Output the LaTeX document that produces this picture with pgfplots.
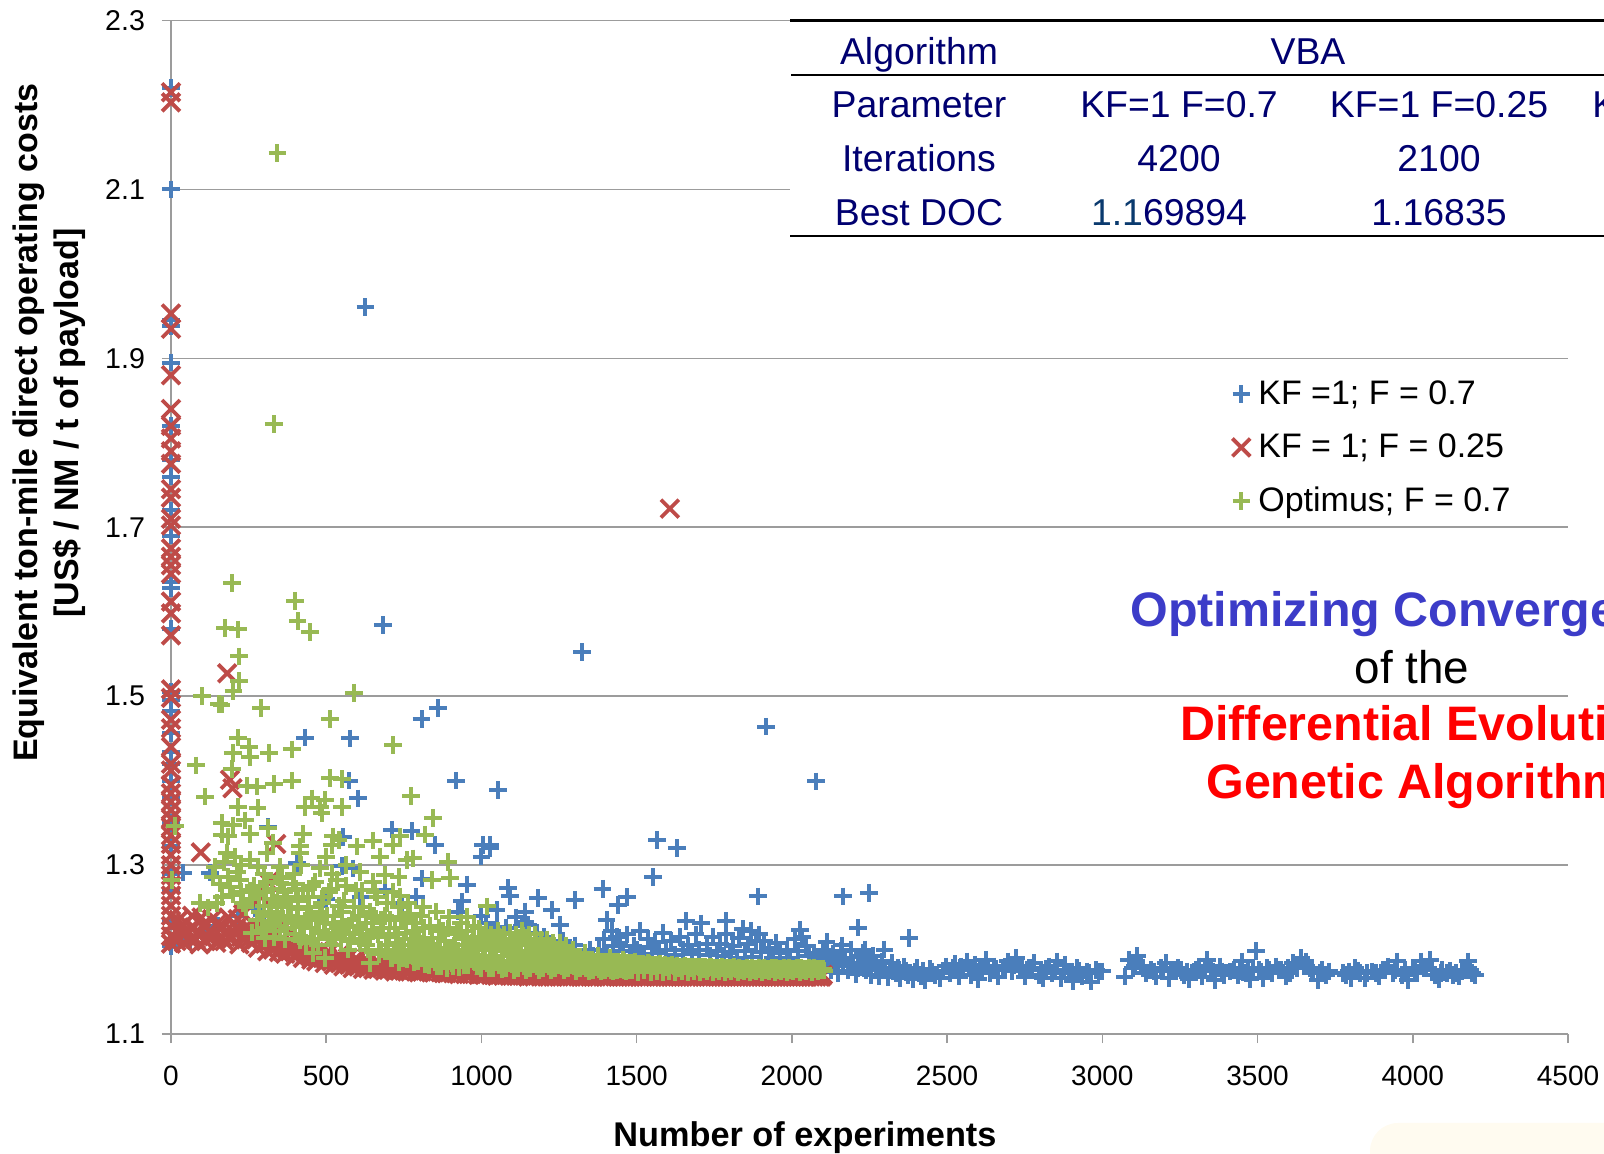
\documentclass[border=0pt]{standalone}
\usepackage{pgfplots}
\pgfplotsset{compat=1.18}
\usepackage{fontspec}
\setmainfont{Liberation Sans}
\definecolor{cblue}{HTML}{4A7EBB}
\definecolor{cred}{HTML}{BE4B48}
\definecolor{cgreen}{HTML}{98B954}
\definecolor{cgrid}{HTML}{9C9C9C}
\definecolor{cnavy}{HTML}{000070}
\begin{document}
\begin{tikzpicture}
\path[use as bounding box] (-85.5pt,-60pt) rectangle (716.5pt,517pt);
\clip (-85.5pt,-60pt) rectangle (716.5pt,517pt);
\begin{axis}[
  at={(0pt,0pt)},anchor=origin,
  scale only axis,width=698.5pt,height=506.75pt,
  xmin=0,xmax=4500,ymin=1.1,ymax=2.3,
  axis x line*=bottom,axis y line*=left,
  axis line style={-,draw=cgrid,line width=.8pt},
  xtick={0,500,...,4500},
  ytick={1.1,1.3,1.5,1.7,1.9,2.1,2.3},
  yticklabels={1.1,1.3,1.5,1.7,1.9,2.1,2.3},
  scaled x ticks=false,
  xticklabel style={/pgf/number format/1000 sep={},/pgf/number format/assume math mode=true,font=\fontsize{14}{16}\selectfont,yshift=-8pt},
  yticklabel style={font=\fontsize{14.3}{16}\selectfont,xshift=-5pt},
  tick align=outside,major tick length=4.5pt,
  tick style={draw=cgrid,line width=.8pt},
  ymajorgrids,grid style={draw=cgrid,line width=.8pt},
  clip=false,
  xlabel={Number of experiments},
  ylabel={Equivalent ton-mile direct operating costs\\ {[US\$ / NM / t of payload]}},
  every axis x label/.style={at={(axis description cs:0.4538,-0.1027)},anchor=center,font=\fontsize{17.15}{20}\selectfont\bfseries},
  every axis y label/.style={at={(axis description cs:-0.0875,0.603)},rotate=90,anchor=center,align=center,font=\fontsize{17}{20.5}\selectfont\bfseries},
  legend style={at={(axis cs:3419,1.878)},anchor=north west,draw=none,fill=none,inner sep=0pt,outer sep=0pt,font=\fontsize{17}{20}\selectfont,row sep=9.2pt,legend cell align=left},
  legend image code/.code={\draw[#1] plot coordinates {(0pt,0pt)};\path (0pt,0pt) (6.3pt,0pt);},
]
\addplot[only marks,mark=+,mark size=4.4pt,color=cblue,mark options={line width=2pt}] coordinates {
(0,2.22)(0,2.10)(0,1.945)(0,1.938)(0,1.895)(0,1.82)(0,1.78)(0,1.76)(0,1.72)(0,1.69)(0,1.635)(0,1.628)(0,1.58)(0,1.505)(0,1.495)(0,1.483)(0,1.456)(0,1.434)(0,1.42)(0,1.399)(0,1.38)(0,1.35)(0,1.322)(0,1.29)(0,1.27)(0,1.234)(0,1.204)
(626,1.961)(682,1.584)(1324,1.552)(1917,1.464)(2078,1.399)(860,1.486)(807,1.473)(431,1.451)(576,1.45)(573,1.40)(603,1.379)(919,1.40)(1054,1.389)
(711,1.342)(775,1.34)(851,1.324)(1005,1.324)(1028,1.324)(1027,1.32)(1000,1.31)(313,1.345)(554,1.333)(405,1.302)(550,1.299)(587,1.296)(39,1.291)(125,1.291)(808,1.284)(953,1.277)(1086,1.273)(1092,1.263)(1182,1.261)(1301,1.259)(1390,1.272)(1226,1.247)(1253,1.229)(1403,1.235)(1468,1.262)(1440,1.253)(937,1.257)(924,1.245)(1049,1.247)(1049,1.227)(1140,1.245)(1140,1.233)(271,1.249)(1436,1.215)
(1553,1.286)(1629,1.32)(1565,1.33)(1891,1.263)(2165,1.263)(2249,1.267)(2212,1.226)(2378,1.214)(1658,1.234)(1708,1.231)(1788,1.234)(1788,1.218)(1843,1.224)(1868,1.222)(1895,1.218)(1910,1.21)(2027,1.223)(2032,1.215)(2112,1.209)(2160,1.205)(2235,1.2)(2298,1.2)
(40,1.215)(62,1.21)(110,1.222)(150,1.228)(215,1.24)(300,1.23)(408,1.25)(500,1.26)(610,1.262)(690,1.27)(745,1.255)(790,1.262)(1000,1.24)(1015,1.232)(1080,1.226)(1110,1.238)(1130,1.228)(1150,1.229)(1180,1.22)(1200,1.215)(1262,1.21)(1300,1.205)(1350,1.2)(1395,1.212)(1420,1.222)(1445,1.208)(1470,1.218)(1490,1.204)(1510,1.222)(1535,1.213)(1560,1.209)(1585,1.22)(1610,1.21)(1640,1.215)(1665,1.205)(1690,1.218)(1725,1.206)(1745,1.215)(1770,1.207)(1810,1.204)(1830,1.214)(1860,1.206)(1885,1.21)(1925,1.202)(1950,1.208)(1985,1.2)(2010,1.212)(2045,1.204)(2070,1.196)
(1360,1.192)(1380,1.2)(1405,1.196)(1425,1.204)(1455,1.198)(1480,1.192)(1500,1.2)(1522,1.195)(1548,1.202)(1572,1.196)(1596,1.2)(1622,1.194)(1650,1.2)(1678,1.195)(1702,1.2)(1735,1.193)(1758,1.198)(1782,1.192)(1800,1.197)(1822,1.19)(1848,1.198)(1872,1.191)(1900,1.197)(1938,1.19)(1962,1.196)(1995,1.19)(2020,1.198)(2055,1.192)(2082,1.186)(2105,1.182)
(2090,1.19)(2100,1.2)(2118,1.183)(2125,1.176)(2133,1.195)(2140,1.186)(2150,1.172)(2158,1.198)(2172,1.19)(2180,1.175)(2190,1.2)(2198,1.184)(2206,1.171)(2215,1.191)(2222,1.18)(2230,1.196)(2238,1.176)(2246,1.188)(2255,1.17)(2262,1.192)(2270,1.182)(2280,1.168)(2290,1.186)(2300,1.176)(2310,1.167)(2322,1.184)(2335,1.172)(2348,1.166)(2360,1.18)(2375,1.17)(2390,1.165)(2402,1.178)(2415,1.168)(2430,1.164)(2445,1.177)(2462,1.17)(2478,1.166)(2495,1.18)(2510,1.172)(2525,1.183)(2538,1.168)(2552,1.176)(2565,1.186)(2578,1.17)(2590,1.182)(2600,1.165)(2612,1.178)(2625,1.188)(2638,1.172)(2650,1.18)(2665,1.168)(2680,1.176)(2695,1.186)(2710,1.174)(2722,1.19)(2735,1.18)(2750,1.168)(2765,1.178)(2780,1.184)(2795,1.17)(2808,1.166)(2820,1.177)(2838,1.172)(2855,1.186)(2868,1.166)(2880,1.182)(2892,1.172)(2905,1.163)(2918,1.178)(2935,1.168)(2950,1.174)(2965,1.162)(2980,1.176)(3000,1.174)
(3072,1.168)(3085,1.188)(3098,1.178)(3112,1.192)(3125,1.18)(3140,1.172)(3158,1.176)(3172,1.168)(3188,1.178)(3205,1.184)(3215,1.166)(3230,1.176)(3245,1.178)(3262,1.17)(3280,1.165)(3295,1.174)(3310,1.18)(3322,1.168)(3338,1.188)(3350,1.176)(3362,1.164)(3378,1.18)(3392,1.17)(3410,1.174)(3438,1.17)(3450,1.186)(3462,1.172)(3475,1.165)(3495,1.198)(3505,1.176)(3518,1.166)(3530,1.178)(3545,1.172)(3560,1.18)(3575,1.176)(3590,1.168)(3605,1.172)(3615,1.184)(3628,1.178)(3640,1.19)(3655,1.186)(3668,1.178)(3680,1.172)(3695,1.164)(3708,1.176)(3722,1.17)
(3785,1.17)(3800,1.166)(3815,1.178)(3830,1.172)(3845,1.166)(3870,1.174)(3890,1.168)(3905,1.176)(3920,1.18)(3935,1.172)(3950,1.186)(3965,1.17)(3985,1.164)(4000,1.178)(4015,1.172)(4028,1.186)(4042,1.178)(4055,1.188)(4070,1.17)(4085,1.165)(4095,1.176)(4110,1.172)(4130,1.17)(4150,1.168)(4165,1.176)(4178,1.186)(4190,1.172)(4200,1.17)
(2112,1.182)(2145,1.18)(2165,1.184)(2185,1.182)(2212,1.178)(2234,1.184)(2252,1.18)(2275,1.176)(2295,1.178)(2316,1.176)(2342,1.178)(2368,1.175)(2396,1.174)(2422,1.175)(2452,1.174)(2486,1.175)(2518,1.178)(2545,1.18)(2572,1.178)(2605,1.176)(2632,1.18)(2658,1.177)(2688,1.18)(2715,1.182)(2742,1.178)(2772,1.178)(2802,1.176)(2828,1.18)(2848,1.176)(2875,1.176)(2898,1.174)(2925,1.175)(2958,1.172)(2990,1.174)
(3105,1.18)(3132,1.178)(3165,1.174)(3195,1.176)(3222,1.175)(3252,1.176)(3272,1.174)(3302,1.176)(3330,1.178)(3356,1.174)(3385,1.174)(3425,1.176)(3445,1.174)(3468,1.175)(3485,1.178)(3512,1.174)(3538,1.176)(3568,1.176)(3598,1.178)(3622,1.18)(3648,1.18)(3675,1.176)(3702,1.172)(3730,1.174)(3775,1.172)(3795,1.174)(3822,1.175)(3852,1.172)(3880,1.172)(3912,1.176)(3942,1.176)(3975,1.176)(4008,1.176)(4035,1.178)(4062,1.176)(4090,1.172)(4120,1.175)(4140,1.172)(4158,1.174)(4185,1.176)
};
\addlegendentry{KF =1; F = 0.7}
\addplot[only marks,mark=x,mark size=6.3pt,color=cred,mark options={line width=1.9pt}] coordinates {
(0,2.215)(0,2.203)(0,1.953)(0,1.935)(0,1.88)(0,1.84)(0,1.82)(0,1.805)(0,1.79)(0,1.775)(0,1.745)(0,1.735)(0,1.71)(0,1.702)(0,1.675)(0,1.665)(0,1.655)(0,1.645)(0,1.612)(0,1.598)(0,1.572)(0,1.508)(0,1.498)(0,1.472)(0,1.462)(0,1.44)(0,1.42)(0,1.412)(0,1.395)(0,1.385)(0,1.375)(0,1.365)(0,1.355)(0,1.345)(0,1.335)(0,1.325)(0,1.312)(0,1.3)(0,1.288)(0,1.276)(0,1.264)(0,1.252)(0,1.24)(0,1.228)(0,1.216)(0,1.207)
(1607,1.722)(181,1.527)(190,1.401)(198,1.391)(96,1.315)(339,1.325)(313,1.28)(290,1.262)
(18,1.21)(30,1.226)(42,1.208)(55,1.222)(68,1.24)(80,1.212)(92,1.206)(105,1.23)(118,1.215)(132,1.236)(146,1.208)(160,1.224)(172,1.21)(185,1.238)(198,1.214)(210,1.226)(220,1.206)(232,1.242)(245,1.218)(258,1.208)(268,1.23)(280,1.202)(295,1.215)(310,1.198)(322,1.22)(335,1.204)(348,1.197)(362,1.212)(375,1.2)(388,1.222)(400,1.192)(412,1.205)(425,1.19)(438,1.21)(452,1.188)(468,1.186)(482,1.2)(495,1.184)(510,1.197)(525,1.182)(540,1.193)(555,1.18)(570,1.19)(585,1.178)(600,1.188)(618,1.177)(635,1.186)(652,1.176)(670,1.184)(688,1.175)(705,1.183)(722,1.174)(742,1.181)(760,1.174)(778,1.18)(798,1.173)(818,1.178)(838,1.173)(858,1.177)(878,1.172)(898,1.176)(918,1.172)(938,1.175)(958,1.171)(978,1.174)(1000,1.171)(1020,1.173)(1040,1.17)(1060,1.172)(1080,1.17)(1100,1.171)(1120,1.169)(1140,1.171)(1160,1.169)(1180,1.17)(1200,1.169)(1220,1.17)(1240,1.169)(1260,1.169)(1280,1.168)(1300,1.169)(1320,1.168)(1340,1.169)(1360,1.168)(1380,1.169)(1400,1.168)(1420,1.169)(1440,1.168)(1460,1.168)(1480,1.168)(1500,1.169)(1520,1.168)(1540,1.168)(1560,1.168)(1580,1.169)(1600,1.168)(1620,1.168)(1640,1.168)(1660,1.168)(1680,1.168)(1700,1.169)(1720,1.168)(1740,1.168)(1760,1.168)(1780,1.168)(1800,1.168)(1820,1.168)(1840,1.168)(1860,1.168)(1880,1.168)(1900,1.168)(1920,1.168)(1940,1.168)(1960,1.168)(1980,1.168)(2000,1.168)(2020,1.168)(2040,1.168)(2060,1.168)(2080,1.168)(2095,1.168)(2100,1.17)
(8,1.215)(24,1.235)(36,1.218)(48,1.232)(62,1.212)(74,1.226)(86,1.218)(98,1.238)(112,1.21)(125,1.222)(138,1.216)(152,1.232)(166,1.214)(178,1.222)(192,1.212)(204,1.22)(215,1.236)(226,1.215)(238,1.226)(252,1.212)(262,1.222)(274,1.212)(288,1.226)(302,1.207)(316,1.21)(328,1.2)(342,1.208)(355,1.202)(368,1.195)(382,1.198)(394,1.205)(406,1.196)(418,1.198)(432,1.197)(445,1.195)(460,1.192)(475,1.19)(488,1.19)(503,1.19)(518,1.186)(533,1.187)(548,1.185)(563,1.183)(578,1.183)(593,1.181)(610,1.182)(627,1.18)(644,1.18)(661,1.178)(679,1.178)(697,1.177)(714,1.177)(732,1.176)(751,1.175)(769,1.175)(788,1.174)
(808,1.174)(828,1.174)(848,1.173)(868,1.173)(888,1.172)(908,1.172)(928,1.171)(948,1.171)(968,1.171)(990,1.17)(1010,1.17)(1030,1.17)(1050,1.169)(1070,1.169)(1090,1.169)(1110,1.169)(1130,1.169)(1150,1.168)(1170,1.168)(1190,1.168)(1210,1.168)(1230,1.168)(1250,1.168)(1270,1.168)(1290,1.168)(1310,1.168)(1330,1.168)(1350,1.168)(1370,1.168)(1390,1.168)(1410,1.168)(1430,1.168)(1450,1.168)(1470,1.168)(1490,1.168)(1510,1.168)(1530,1.168)(1550,1.168)(1570,1.168)(1590,1.168)(1610,1.168)(1630,1.168)(1650,1.168)(1670,1.168)(1690,1.168)(1710,1.168)(1730,1.168)(1750,1.168)(1770,1.168)(1790,1.168)(1810,1.168)(1830,1.168)(1850,1.168)(1870,1.168)(1890,1.168)(1910,1.168)(1930,1.168)(1950,1.168)(1970,1.168)(1990,1.168)(2010,1.168)(2030,1.168)(2050,1.168)(2070,1.168)(2090,1.168)
};
\addlegendentry{KF = 1; F = 0.25}
\addplot[only marks,mark=+,mark size=4.4pt,color=cgreen,mark options={line width=2pt}] coordinates {
(343,2.143)(331,1.822)(196,1.634)(400,1.613)(174,1.581)(215,1.579)(408,1.589)(448,1.576)(219,1.547)(219,1.518)(201,1.506)(99,1.5)(155,1.491)(163,1.49)(290,1.486)(590,1.504)(512,1.473)(215,1.451)(251,1.44)(199,1.433)(254,1.428)(316,1.433)(389,1.437)(716,1.442)(81,1.418)(196,1.414)(244,1.394)(277,1.393)(332,1.396)(389,1.4)(512,1.403)(551,1.402)(110,1.381)(773,1.382)(215,1.369)(279,1.368)(432,1.369)(453,1.379)(496,1.377)(480,1.369)(485,1.362)(550,1.369)(844,1.356)(13,1.346)(163,1.35)(200,1.347)(238,1.353)(313,1.344)(818,1.336)(254,1.337)(425,1.337)(163,1.336)(184,1.334)(522,1.334)(738,1.334)(329,1.326)(416,1.322)(416,1.314)(598,1.322)(650,1.329)(715,1.324)(518,1.324)(540,1.33)
(892,1.304)(899,1.285)(840,1.282)(673,1.31)(759,1.306)(733,1.286)(738,1.263)(780,1.308)(953,1.239)(1017,1.251)(856,1.18)(641,1.184)(496,1.19)(458,1.196)(416,1.211)(303,1.214)(93,1.255)(147,1.255)(2,1.282)(142,1.298)(135,1.286)(158,1.278)(222,1.282)(190,1.274)(254,1.27)(254,1.306)(179,1.314)(308,1.314)(351,1.298)(345,1.286)(351,1.279)(170,1.304)(205,1.31)(225,1.3)(480,1.296)(500,1.31)(520,1.29)(565,1.3)(610,1.292)(650,1.28)(690,1.288)(420,1.3)(395,1.29)(300,1.29)(280,1.298)(120,1.25)
(165,1.262)(185,1.286)(200,1.265)(212,1.292)(225,1.268)(232,1.255)
(240,1.25)(262,1.26)(285,1.245)(300,1.268)(318,1.23)(328,1.26)(340,1.245)(352,1.222)(365,1.268)(378,1.25)(390,1.232)(402,1.272)(410,1.248)(428,1.228)(440,1.262)(452,1.242)(465,1.28)(478,1.222)(490,1.262)(502,1.24)(515,1.272)(528,1.218)(540,1.252)(552,1.232)(565,1.275)(578,1.212)(590,1.25)(602,1.228)(615,1.27)(628,1.205)(640,1.245)(652,1.222)(665,1.262)(678,1.2)(690,1.24)(702,1.215)(715,1.268)(728,1.198)(740,1.238)(752,1.212)(765,1.255)(778,1.192)(790,1.232)(800,1.21)(812,1.25)(824,1.19)
(835,1.228)(845,1.205)(855,1.245)(866,1.186)(875,1.222)(885,1.202)(896,1.238)(905,1.184)(915,1.218)(925,1.198)(935,1.232)(945,1.182)(955,1.214)(965,1.195)(975,1.228)(985,1.18)(995,1.208)(1005,1.19)(1015,1.222)(1025,1.178)(1035,1.204)(1045,1.188)(1055,1.215)(1065,1.177)(1075,1.2)(1085,1.186)(1095,1.212)(1105,1.176)(1115,1.198)(1125,1.185)(1135,1.216)(1145,1.176)(1155,1.198)(1165,1.184)(1175,1.212)(1185,1.175)(1195,1.196)(1205,1.183)(1215,1.204)(1225,1.175)(1235,1.194)(1245,1.182)(1255,1.198)(1265,1.175)(1275,1.192)(1285,1.181)(1295,1.2)(1305,1.174)(1315,1.19)(1325,1.18)(1335,1.196)(1345,1.174)(1355,1.188)(1365,1.179)(1375,1.192)(1385,1.174)(1395,1.186)(1405,1.178)(1415,1.19)(1425,1.174)(1435,1.184)(1445,1.177)(1455,1.188)(1465,1.174)(1475,1.182)(1485,1.176)(1495,1.186)
(1505,1.173)(1515,1.181)(1525,1.175)(1535,1.184)(1545,1.173)(1555,1.18)(1565,1.174)(1575,1.183)(1585,1.173)(1595,1.179)(1605,1.174)(1615,1.182)(1625,1.173)(1635,1.178)(1645,1.174)(1655,1.181)(1665,1.173)(1675,1.178)(1685,1.174)(1695,1.18)(1705,1.173)(1715,1.177)(1725,1.174)(1735,1.18)(1745,1.173)(1755,1.177)(1765,1.174)(1775,1.179)(1785,1.173)(1795,1.177)(1805,1.174)(1815,1.179)(1825,1.173)(1835,1.176)(1845,1.174)(1855,1.178)(1865,1.173)(1875,1.176)(1885,1.174)(1895,1.178)(1905,1.173)(1915,1.176)(1925,1.174)(1935,1.178)(1945,1.173)(1955,1.176)(1965,1.174)(1975,1.178)(1985,1.173)(1995,1.176)(2005,1.174)(2015,1.178)(2025,1.173)(2035,1.176)(2045,1.174)(2055,1.178)(2065,1.173)(2075,1.177)(2085,1.174)(2095,1.176)(2105,1.175)
(260,1.22)(268,1.275)(276,1.235)(284,1.265)(292,1.222)(300,1.252)(310,1.28)(316,1.24)(325,1.272)(333,1.215)(342,1.255)(350,1.235)(358,1.285)(366,1.212)(374,1.262)(382,1.24)(392,1.278)(400,1.218)(408,1.258)(416,1.23)(424,1.27)(434,1.208)(444,1.25)(456,1.275)(466,1.235)(472,1.205)(486,1.255)(496,1.22)(508,1.268)(518,1.205)(526,1.24)(534,1.282)(546,1.212)(558,1.258)(570,1.2)(584,1.235)(596,1.27)(608,1.208)(620,1.25)(634,1.2)(646,1.232)(658,1.268)(670,1.195)(684,1.225)(696,1.255)(710,1.19)(722,1.225)(734,1.25)(746,1.19)(758,1.22)(770,1.242)(782,1.185)(794,1.215)(806,1.24)(818,1.183)
(305,1.226)(322,1.245)(336,1.228)(356,1.25)(372,1.226)(388,1.25)(406,1.235)(420,1.215)(438,1.238)(450,1.225)(462,1.212)(480,1.245)(492,1.232)(506,1.215)(522,1.23)(538,1.225)(550,1.245)(562,1.218)(574,1.228)(590,1.218)(604,1.24)(616,1.218)(628,1.232)(640,1.215)(654,1.24)(666,1.218)(678,1.235)(692,1.205)(706,1.235)(718,1.2)(730,1.218)(742,1.205)(754,1.235)(766,1.2)(780,1.222)(788,1.205)(802,1.195)(816,1.226)(828,1.205)(840,1.214)(852,1.198)(862,1.226)(872,1.192)(882,1.21)(892,1.225)(900,1.19)(910,1.205)(920,1.222)
(700,1.2)(712,1.19)(725,1.208)(736,1.185)(748,1.2)(760,1.188)(772,1.205)(784,1.2)(796,1.186)(808,1.198)(820,1.2)(832,1.182)(842,1.194)(850,1.185)(860,1.2)(870,1.18)(878,1.19)(888,1.178)(898,1.195)(908,1.18)(918,1.19)(928,1.179)(938,1.19)(948,1.2)(958,1.182)(968,1.208)(978,1.185)(988,1.194)(998,1.178)(1008,1.2)(1018,1.184)(1028,1.192)(1038,1.178)(1048,1.198)(1058,1.182)(1068,1.192)(1078,1.178)(1088,1.196)(1098,1.183)(1108,1.19)(1118,1.178)(1128,1.195)(1138,1.18)(1148,1.19)(1158,1.178)(1168,1.195)(1178,1.18)(1188,1.19)(1198,1.178)(1208,1.192)(1218,1.18)(1228,1.188)(1238,1.178)(1248,1.19)(1258,1.18)(1268,1.186)(1278,1.178)(1288,1.19)(1298,1.18)(1308,1.185)(1318,1.178)(1328,1.188)(1338,1.178)(1348,1.182)(1358,1.176)(1368,1.186)(1378,1.177)(1388,1.182)(1398,1.176)(1408,1.184)(1418,1.176)(1428,1.18)(1438,1.176)(1448,1.183)(1458,1.176)(1468,1.18)(1478,1.176)(1488,1.182)
(940,1.212)(952,1.222)(960,1.205)(972,1.215)(982,1.205)(992,1.225)(1002,1.21)(1012,1.2)(1022,1.212)(1032,1.218)(1042,1.205)(1052,1.222)(1062,1.21)(1072,1.218)(1082,1.205)(1092,1.22)(1102,1.208)(1112,1.218)(1122,1.205)(1132,1.222)(1142,1.208)(1152,1.218)(1162,1.205)(1172,1.218)(1182,1.205)(1192,1.212)(1202,1.2)(1212,1.212)(1222,1.198)(1232,1.208)(1242,1.198)(1252,1.208)(1262,1.198)(1272,1.204)(1282,1.195)
(1300,1.186)(1310,1.187)(1320,1.186)(1330,1.187)(1340,1.186)(1350,1.187)(1360,1.186)(1370,1.186)(1380,1.186)(1390,1.186)(1400,1.185)(1410,1.186)(1420,1.185)(1430,1.185)(1440,1.185)(1450,1.184)(1460,1.185)(1470,1.184)(1480,1.184)(1490,1.184)
(1500,1.183)(1510,1.183)(1520,1.183)(1530,1.182)(1540,1.183)(1550,1.182)(1560,1.182)(1570,1.182)(1580,1.181)(1590,1.182)(1600,1.181)(1610,1.181)(1620,1.18)(1630,1.181)(1640,1.18)(1650,1.18)(1660,1.18)(1670,1.18)(1680,1.179)(1690,1.18)(1700,1.179)(1710,1.179)(1720,1.179)(1730,1.178)(1740,1.179)(1750,1.178)(1760,1.178)(1770,1.178)(1780,1.178)(1790,1.178)(1800,1.178)(1810,1.178)(1820,1.177)(1830,1.178)(1840,1.177)(1850,1.177)(1860,1.177)(1870,1.178)(1880,1.177)(1890,1.177)(1900,1.177)(1910,1.178)(1920,1.177)(1930,1.177)(1940,1.177)(1950,1.178)(1960,1.177)(1970,1.177)(1980,1.177)(1990,1.178)(2000,1.177)(2010,1.177)(2020,1.177)(2030,1.178)(2040,1.177)(2050,1.177)(2060,1.177)(2070,1.178)(2080,1.177)(2090,1.177)(2100,1.177)
};
\addlegendentry{Optimus; F = 0.7}
\end{axis}
\begin{scope}[x=0.5pt,y=-0.5pt,shift={(-171,-1034)}]
\fill[white] (790,0) rectangle (1604,238);
\draw[black,line width=1.3pt] (790,20.5) -- (1604,20.5);
\draw[black,line width=1.3pt] (791,75) -- (1604,75);
\draw[black,line width=1.3pt] (790,236) -- (1604,236);
\tikzset{tt/.style={text=cnavy,font=\fontsize{18.7}{20}\selectfont,inner sep=0pt,anchor=base}}
\node[tt] at (919,65) {Algorithm};
\node[tt] at (1308,65) {VBA};
\node[tt] at (919,118) {Parameter};
\node[tt] at (1179,118) {KF=1 F=0.7};
\node[tt] at (1439,118) {KF=1 F=0.25};
\node[tt,anchor=base west] at (1592,118) {K};
\node[tt] at (919,172) {Iterations};
\node[tt] at (1179,172) {4200};
\node[tt] at (1439,172) {2100};
\node[tt] at (919,226) {Best DOC};
\node[tt] at (1169,226) {\textcolor[HTML]{0A3A6E}{1.1}69894};
\node[tt] at (1439,226) {1.16835};
\tikzset{bt/.style={font=\fontsize{24.2}{28}\selectfont\bfseries,inner sep=0pt,anchor=base west}}
\node[bt,text={rgb,255:red,60;green,60;blue,200}] at (1130,627) {Optimizing Convergence};
\node[font=\fontsize{22.9}{26}\selectfont,inner sep=0pt,anchor=base] at (1412,684) {of the};
\node[bt,text=red] at (1180,741) {Differential Evolution};
\node[bt,text=red] at (1206,799) {Genetic Algorithm};
\fill[fill={rgb,255:red,255;green,251;blue,240},rounded corners=14pt] (1370,1123) rectangle (1640,1190);
\end{scope}
\end{tikzpicture}
\end{document}
